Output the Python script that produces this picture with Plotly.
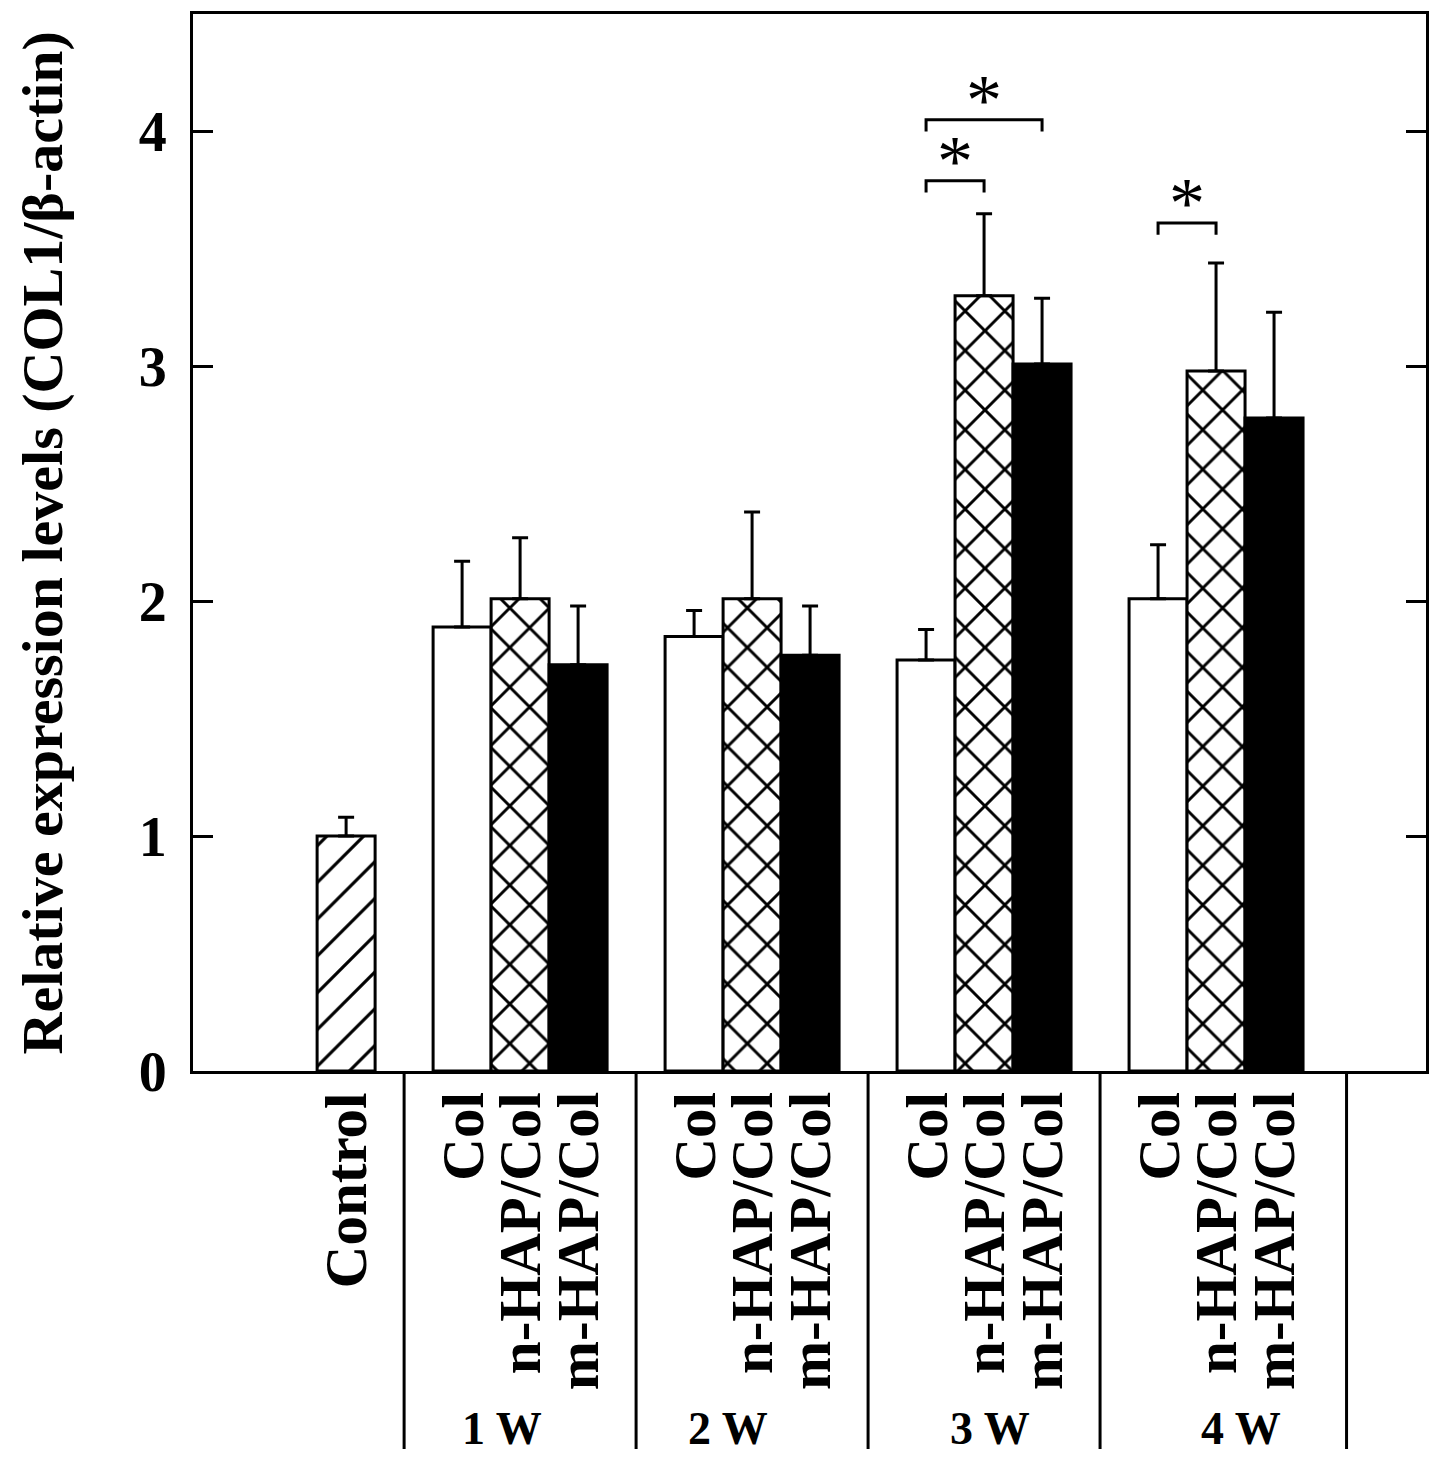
import plotly.graph_objects as go

# ---------------- data ----------------
weeks = ["1 W", "2 W", "3 W", "4 W"]
series_names = ["Col", "n-HAP/Col", "m-HAP/Col"]
control_label = "Control"
control_value = [1.00]
control_error = [0.08]
col_values = [1.89, 1.85, 1.75, 2.01]
col_errors = [0.28, 0.11, 0.13, 0.23]
nhap_values = [2.01, 2.01, 3.30, 2.98]
nhap_errors = [0.26, 0.37, 0.35, 0.46]
mhap_values = [1.73, 1.77, 3.01, 2.78]
mhap_errors = [0.25, 0.21, 0.28, 0.45]
y_ticks = [0, 1, 2, 3, 4]
# significance brackets: (week index, series a, series b, bracket height)
sig_brackets = [(2, 0, 1, 3.79), (2, 0, 2, 4.05), (3, 0, 1, 3.61)]
sig_label = "*"

# ---------------- layout helpers ----------------
FONT = "Liberation Serif"
group_step = 4
first_group = 3      # centre of first week group (control at 0)
def xpos(week, s):
    return first_group + group_step * week + (s - 1)

def xs(s):
    return [xpos(w, s) for w in range(len(weeks))]

fig = go.Figure()
line = dict(color="black", width=3)
err = lambda a: dict(type="data", array=a, arrayminus=[0] * len(a), symmetric=False,
                     color="black", thickness=3, width=8)

fig.add_trace(go.Bar(x=[0], y=control_value, width=1,
                     marker=dict(color="white", line=line,
                                 pattern=dict(shape="/", size=26, solidity=0.12, fgcolor="black",
                                              fgopacity=1, bgcolor="white")),
                     error_y=err(control_error), showlegend=False))
fig.add_trace(go.Bar(x=xs(0), y=col_values, width=1,
                     marker=dict(color="white", line=line),
                     error_y=err(col_errors), showlegend=False))
fig.add_trace(go.Bar(x=xs(1), y=nhap_values, width=1,
                     marker=dict(color="white", line=line,
                                 pattern=dict(shape="x", size=28, solidity=0.2, fgcolor="black",
                                              fgopacity=1, bgcolor="white")),
                     error_y=err(nhap_errors), showlegend=False))
fig.add_trace(go.Bar(x=xs(2), y=mhap_values, width=1,
                     marker=dict(color="black", line=line),
                     error_y=err(mhap_errors), showlegend=False))

shapes = []
annotations = []
# significance brackets
for w, a, b, h in sig_brackets:
    x0, x1 = xpos(w, a), xpos(w, b)
    shapes.append(dict(type="path", xref="x", yref="y",
                       path=f"M {x0},{h-0.05} L {x0},{h} L {x1},{h} L {x1},{h-0.05}",
                       line=dict(color="black", width=3)))
    annotations.append(dict(x=(x0 + x1) / 2, y=h, xref="x", yref="y", text=sig_label,
                            showarrow=False, yanchor="bottom", yshift=-22,
                            font=dict(family=FONT, size=72, color="black")))

# category labels (rotated)
label_font = dict(family=FONT, size=59, color="black", weight="bold")
annotations.append(dict(x=0, y=-0.018, xref="x", yref="paper", text=control_label,
                        textangle=-90, showarrow=False, xanchor="center", yanchor="top", font=label_font))
for w in range(len(weeks)):
    for s, name in enumerate(series_names):
        annotations.append(dict(x=xpos(w, s), y=-0.018, xref="x", yref="paper", text=name,
                                textangle=-90, showarrow=False, xanchor="center", yanchor="top",
                                font=label_font))
# week labels
week_label_x = [2.69, 6.59, 11.1, 15.43]
for w, name in enumerate(weeks):
    annotations.append(dict(x=week_label_x[w], y=-0.364, xref="x", yref="paper", text=name,
                            showarrow=False, xanchor="center", yanchor="bottom",
                            font=dict(family=FONT, size=46, color="black", weight="bold")))
# separators below axis
for sx in [1, 5, 9, 13, 17.25]:
    shapes.append(dict(type="line", xref="x", yref="paper", x0=sx, x1=sx, y0=0, y1=-0.3576,
                       line=dict(color="black", width=3)))

# y-axis title
annotations.append(dict(x=-0.1217, y=0.5, xref="paper", yref="paper",
                        text="Relative expression levels (COL1/β-actin)", textangle=-90,
                        showarrow=False, xanchor="center", yanchor="middle",
                        font=dict(family=FONT, size=58, color="black", weight="bold")))

fig.update_layout(
    width=1441, height=1461,
    margin=dict(l=185, r=23, t=6, b=398, autoexpand=False),
    paper_bgcolor="white", plot_bgcolor="white",
    barmode="overlay", showlegend=False,
    shapes=shapes, annotations=annotations,
)
fig.update_xaxes(range=[-2.64, 18.62], showline=True, linecolor="black", linewidth=3,
                 mirror=True, showticklabels=False, ticks="", showgrid=False, zeroline=False)
fig.update_yaxes(range=[0, 4.5], tickvals=y_ticks, ticktext=[str(v) for v in y_ticks],
                 showline=True, linecolor="black", linewidth=3, mirror="ticks",
                 ticks="inside", ticklen=20, tickwidth=3, tickcolor="black",
                 ticklabelstandoff=12, showgrid=False, zeroline=False,
                 tickfont=dict(family=FONT, size=56, color="black", weight="bold"))

fig.write_html("out.html")
